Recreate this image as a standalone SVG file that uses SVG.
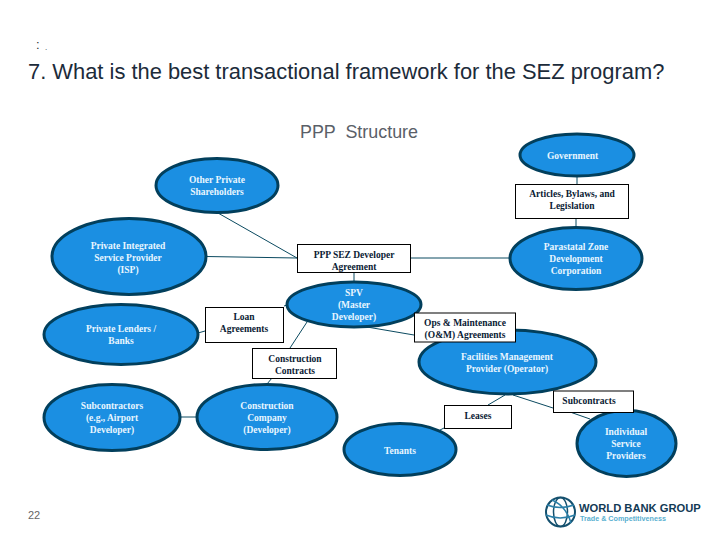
<svg xmlns="http://www.w3.org/2000/svg" width="720" height="540" viewBox="0 0 720 540">
<style>
.e{fill:#1b8fe2;stroke:#023f5c;stroke-width:3}
.b{fill:#fff;stroke:#000;stroke-width:1}
.c{fill:none;stroke:#0b4a60;stroke-width:1}
text{font-family:"Liberation Serif","Times New Roman",serif;font-size:9.5px;font-weight:bold;text-anchor:middle}
.w{fill:#e8f6ff}
.k{fill:#0a1a33}
.s{font-family:"Liberation Sans",Arial,sans-serif;font-weight:normal;text-anchor:start}
</style>
<rect width="720" height="540" fill="#fff"/>
<g id="header">
<text class="s" x="36" y="49" style="font-size:13px" fill="#333">:</text>
<text class="s" x="45" y="50" style="font-size:8px" fill="#333">.</text>
<text class="s" x="28" y="79" style="font-size:21.900px" fill="#1c2b3a">7. What is the best transactional framework for the SEZ program?</text>
<text class="s" x="300" y="138" style="font-size:17.900px" fill="#5a6068" xml:space="preserve">PPP  Structure</text>
<text class="s" x="28" y="519" style="font-size:11px" fill="#666">22</text>
</g>
<g id="connectors">
<path class="c" d="M577 176V184M576 218V227M411 258H510M218 213L297 258M206 256.500L297 258M354 273V282M198 333L205 331M284 306L287 305M307 322L290 348M272 378L267 384M367 327L414 335M181 417H197M505 395L488 405M444 428L440 430M513 395L553 408M570 412L590 419"/>
</g>
<g id="government"><ellipse class="e" cx="577" cy="155" rx="57" ry="21"/><text class="w" x="572.500" y="159">Government</text></g>
<g id="other-private"><ellipse class="e" cx="217" cy="185.500" rx="61" ry="27"/><text class="w" x="217" y="183">Other Private</text><text class="w" x="217" y="195">Shareholders</text></g>
<g id="isp"><ellipse class="e" cx="129" cy="256.500" rx="77" ry="38"/><text class="w" x="128" y="249">Private Integrated</text><text class="w" x="128" y="261">Service Provider</text><text class="w" x="128" y="273">(ISP)</text></g>
<g id="lenders"><ellipse class="e" cx="121" cy="334.500" rx="77" ry="30"/><text class="w" x="121" y="332">Private Lenders /</text><text class="w" x="121" y="344">Banks</text></g>
<g id="spv"><ellipse class="e" cx="354" cy="304.500" rx="67" ry="22.500"/><text class="w" x="354" y="296">SPV</text><text class="w" x="354" y="308">(Master</text><text class="w" x="354" y="320">Developer)</text></g>
<g id="parastatal"><ellipse class="e" cx="576" cy="258.500" rx="66" ry="31"/><text class="w" x="576" y="250">Parastatal Zone</text><text class="w" x="576" y="262">Development</text><text class="w" x="576" y="274">Corporation</text></g>
<g id="facilities"><ellipse class="e" cx="507.500" cy="362" rx="88.500" ry="32"/><text class="w" x="507" y="360">Facilities Management</text><text class="w" x="507" y="372">Provider (Operator)</text></g>
<g id="subcontractors"><ellipse class="e" cx="112" cy="417.500" rx="68" ry="33"/><text class="w" x="112" y="409">Subcontractors</text><text class="w" x="112" y="421">(e.g., Airport</text><text class="w" x="112" y="433">Developer)</text></g>
<g id="construction"><ellipse class="e" cx="267" cy="417" rx="70" ry="32.500"/><text class="w" x="267" y="409">Construction</text><text class="w" x="267" y="421">Company</text><text class="w" x="267" y="433">(Developer)</text></g>
<g id="tenants"><ellipse class="e" cx="400" cy="449.500" rx="56" ry="26"/><text class="w" x="400" y="454">Tenants</text></g>
<g id="individual"><ellipse class="e" cx="626.500" cy="443.500" rx="49.500" ry="33"/><text class="w" x="626" y="435">Individual</text><text class="w" x="626" y="447">Service</text><text class="w" x="626" y="459">Providers</text></g>
<g id="articles"><rect class="b" x="515.500" y="184.500" width="113" height="34"/><text class="k" x="572" y="197">Articles, Bylaws, and</text><text class="k" x="572" y="209">Legislation</text></g>
<g id="ppp-sez"><rect class="b" x="297.500" y="244.500" width="113" height="28"/><text class="k" x="354" y="258">PPP SEZ Developer</text><text class="k" x="354" y="270">Agreement</text></g>
<g id="loan"><rect class="b" x="205.500" y="307.500" width="78" height="35"/><text class="k" x="244" y="320">Loan</text><text class="k" x="244" y="332">Agreements</text></g>
<g id="ops"><rect class="b" x="414.500" y="313" width="101" height="29"/><text class="k" x="465" y="326">Ops &amp; Maintenance</text><text class="k" x="465" y="338">(O&amp;M) Agreements</text></g>
<g id="contracts"><rect class="b" x="252.500" y="348.500" width="84" height="30"/><text class="k" x="295" y="362">Construction</text><text class="k" x="295" y="374">Contracts</text></g>
<g id="subcontracts"><rect class="b" x="553.500" y="391" width="80" height="21.500"/><text class="k" x="589" y="404">Subcontracts</text></g>
<g id="leases"><rect class="b" x="444.500" y="405.500" width="67" height="23"/><text class="k" x="478" y="419">Leases</text></g>
<g id="logo">
<circle cx="560.500" cy="512" r="14.500" fill="none" stroke="#14506e" stroke-width="2"/>
<ellipse cx="560.500" cy="512" rx="7" ry="14.500" fill="none" stroke="#14506e" stroke-width="1.500"/>
<path d="M547 505Q560 510 574 505M546 515Q560 521 575 515M552 500Q566 506 571 523" fill="none" stroke="#2a7fa8" stroke-width="1.500"/>
<text class="s" x="579" y="512" style="font-size:11.200px;font-weight:bold" fill="#123a55">WORLD BANK GROUP</text>
<text class="s" x="580" y="521" style="font-size:7.200px;font-weight:bold" fill="#5ab0d0">Trade &amp; Competitiveness</text>
</g>
</svg>
